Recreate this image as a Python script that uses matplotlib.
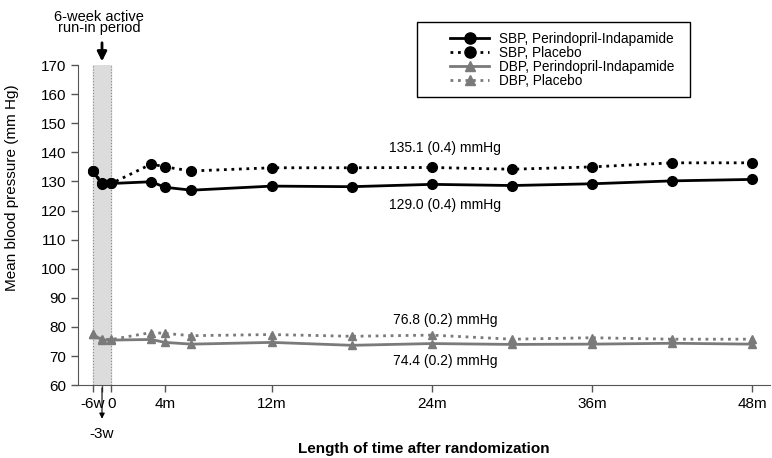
import matplotlib.pyplot as plt
from matplotlib.patches import Rectangle

plt.rcParams['font.family'] = ['Liberation Sans', 'DejaVu Sans']

# visit times in months (-6w and -3w run-in visits)
months = [-1.4, -0.7, 0, 3, 4, 6, 12, 18, 24, 30, 36, 42, 48]

sbp_active = [133.7, 129.0, 129.3, 129.9, 128.0, 127.0, 128.4, 128.2, 129.0, 128.6, 129.2, 130.2, 130.7]
sbp_placebo = [133.7, 129.5, 129.3, 136.0, 135.0, 133.6, 134.7, 134.7, 134.8, 134.2, 135.0, 136.4, 136.4]
dbp_active = [77.5, 75.5, 75.5, 75.7, 74.7, 74.1, 74.7, 73.7, 74.3, 74.0, 74.1, 74.4, 74.1]
dbp_placebo = [77.5, 75.8, 75.7, 78.1, 77.8, 77.0, 77.4, 76.8, 77.2, 75.8, 76.3, 75.8, 75.8]

tick_pos = [-1.4, 0, 4, 12, 24, 36, 48]
tick_labels = ['-6w', '0', '4m', '12m', '24m', '36m', '48m']

gray = '#7a7a7a'

fig = plt.figure(figsize=(7.72, 4.58), dpi=100)
ax = fig.add_axes([0.101, 0.159, 0.896, 0.699])

# run-in period band
ax.axvspan(-1.4, 0, color='#dcdcdc', zorder=0)
for xv in (-1.4, 0):
    ax.axvline(xv, color='#888888', lw=0.8, ls=':', zorder=0.5)

ax.plot(months, sbp_active, color='black', lw=2, marker='o', ms=7,
        label='SBP, Perindopril-Indapamide')
ax.plot(months, sbp_placebo, color='black', lw=2, ls=(0, (1, 1.7)), marker='o', ms=7,
        label='SBP, Placebo')
ax.plot(months, dbp_active, color=gray, lw=2, marker='^', ms=6,
        label='DBP, Perindopril-Indapamide')
ax.plot(months, dbp_placebo, color=gray, lw=2, ls=(0, (1, 1.7)), marker='^', ms=6,
        label='DBP, Placebo')

ax.text(25, 141.5, '135.1 (0.4) mmHg', fontsize=10, ha='center', va='center')
ax.text(25, 121.9, '129.0 (0.4) mmHg', fontsize=10, ha='center', va='center')
ax.text(25, 82.3, '76.8 (0.2) mmHg', fontsize=10, ha='center', va='center')
ax.text(25, 68.4, '74.4 (0.2) mmHg', fontsize=10, ha='center', va='center')

ax.set_xlim(-2.5, 49.3)
ax.set_ylim(60, 170)
ax.set_yticks(range(60, 171, 10))
ax.set_xticks(tick_pos + [-0.7])
ax.set_xticklabels(tick_labels + [''])
ax.tick_params(labelsize=11, length=5, width=1, color='#555555')
ax.spines['top'].set_visible(False)
ax.spines['right'].set_visible(False)
for s in ('left', 'bottom'):
    ax.spines[s].set_color('#555555')

ax.set_ylabel('Mean blood pressure (mm Hg)', fontsize=11)
ax.yaxis.set_label_coords(-0.085, 0.616)
ax.set_xlabel('Length of time after randomization', fontsize=11, fontweight='bold')
ax.xaxis.set_label_coords(0.5, -0.178)

# -3w marker below the axis
ax.annotate('', xy=(-0.7, 47.5), xytext=(-0.7, 60), annotation_clip=False,
            arrowprops=dict(arrowstyle='-|>', color='black', lw=0.8,
                            mutation_scale=8))
ax.text(-0.7, 43.3, '-3w', fontsize=11, ha='center', va='center', clip_on=False)

# run-in annotation above the band
ax.annotate('', xy=(-0.7, 170.3), xytext=(-0.7, 178.6), annotation_clip=False,
            arrowprops=dict(arrowstyle='-|>', color='black', lw=2,
                            mutation_scale=14))
ax.text(-0.9, 184.6, '6-week active\nrun-in period', fontsize=10.5, ha='center',
        va='center', linespacing=0.75, clip_on=False)

# legend without its own frame, boxed separately for wider left margin
ax.legend(loc='upper left', bbox_to_anchor=(450 / 772, 1 - 32 / 458),
          bbox_transform=fig.transFigure, fontsize=9.8, frameon=False,
          handlelength=2.9, handletextpad=0.7, borderpad=0, borderaxespad=0,
          labelspacing=0.0, markerscale=1.15)
fig.patches.append(Rectangle((417 / 772, 1 - 97 / 458), 273 / 772, 75 / 458,
                             transform=fig.transFigure, fill=False,
                             ec='black', lw=1))

fig.savefig('out.png', dpi=100)
